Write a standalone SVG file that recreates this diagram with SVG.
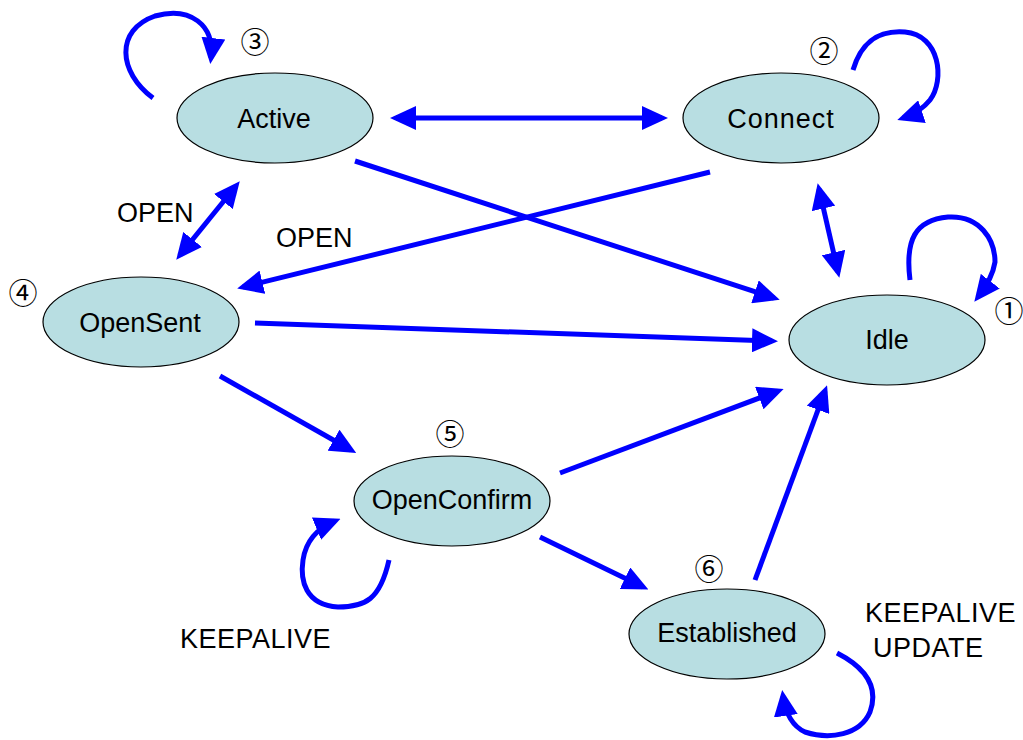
<svg xmlns="http://www.w3.org/2000/svg" width="1023" height="740" viewBox="0 0 1023 740">
<style>
.node ellipse{fill:#b8dee2;stroke:#000;stroke-width:1.2}
.lbl{font-family:"Liberation Sans",Arial,sans-serif;font-size:27px;fill:#000;text-anchor:middle}
.num{font-family:"Noto Sans CJK JP","DejaVu Sans",sans-serif;font-size:29px;fill:#000;text-anchor:middle}
.tx{font-family:"Liberation Sans",Arial,sans-serif;font-size:27px;fill:#000}
.c{fill:none;stroke:#0000ff;stroke-width:5;stroke-linecap:butt}
</style>
<defs>
<marker id="ah" viewBox="0 0 26 24" refX="20" refY="12" markerWidth="26" markerHeight="24" markerUnits="userSpaceOnUse" orient="auto-start-reverse">
<path d="M0,0 L26,12 L0,24 z" fill="#0000ff"/>
</marker>
</defs>
<rect width="1023" height="740" fill="#fff"/>
<g id="connectors">
<line class="c" x1="396" y1="118" x2="662" y2="118" marker-start="url(#ah)" marker-end="url(#ah)"/>
<line class="c" x1="355" y1="161" x2="774" y2="298" marker-end="url(#ah)"/>
<line class="c" x1="710" y1="172" x2="243" y2="287" marker-end="url(#ah)"/>
<line class="c" x1="236" y1="186" x2="180" y2="255" marker-start="url(#ah)" marker-end="url(#ah)"/>
<line class="c" x1="819" y1="189" x2="838" y2="272" marker-start="url(#ah)" marker-end="url(#ah)"/>
<line class="c" x1="255" y1="323" x2="772" y2="341" marker-end="url(#ah)"/>
<line class="c" x1="220" y1="376" x2="351" y2="450" marker-end="url(#ah)"/>
<line class="c" x1="560" y1="473" x2="778" y2="391" marker-end="url(#ah)"/>
<line class="c" x1="540" y1="537" x2="643" y2="587" marker-end="url(#ah)"/>
<line class="c" x1="755" y1="580" x2="825" y2="391" marker-end="url(#ah)"/>
<path class="c" d="M153,98 C118,72 115,30 155,16 C190,6 215,25 211,58" marker-end="url(#ah)"/>
<path class="c" d="M853,70 C862,40 880,30 905,32 C940,35 945,80 930,100 C922,110 912,115 903,118" marker-end="url(#ah)"/>
<path class="c" d="M910,280 C905,240 915,220 948,217 C980,215 995,240 995,262 C993,275 985,288 978,297" marker-end="url(#ah)"/>
<path class="c" d="M389,560 C380,600 365,607 338,607 C305,605 300,580 303,560 C306,540 318,528 335,521" marker-end="url(#ah)"/>
<path class="c" d="M837,653 C870,670 878,690 870,712 C860,735 830,740 805,732 C790,725 785,710 783,696" marker-end="url(#ah)"/>
</g>
<g id="node-active" class="node"><ellipse cx="275" cy="118" rx="98" ry="45"/><text class="lbl" x="274" y="128">Active</text><text class="num" x="255" y="53">③</text></g>
<g id="node-connect" class="node"><ellipse cx="781" cy="118" rx="98" ry="45"/><text class="lbl" x="781" y="128" letter-spacing="1">Connect</text><text class="num" x="824" y="62">②</text></g>
<g id="node-opensent" class="node"><ellipse cx="141" cy="322" rx="98" ry="45"/><text class="lbl" x="140" y="332">OpenSent</text><text class="num" x="23" y="304">④</text></g>
<g id="node-idle" class="node"><ellipse cx="887" cy="340" rx="98" ry="45"/><text class="lbl" x="887" y="349">Idle</text><text class="num" x="1009" y="322">①</text></g>
<g id="node-openconfirm" class="node"><ellipse cx="452" cy="501" rx="98" ry="45"/><text class="lbl" x="452" y="509">OpenConfirm</text><text class="num" x="450" y="445">⑤</text></g>
<g id="node-established" class="node"><ellipse cx="727" cy="634" rx="98" ry="45"/><text class="lbl" x="727" y="642">Established</text><text class="num" x="709" y="580">⑥</text></g>
<g id="labels">
<text class="tx" x="117" y="222">OPEN</text>
<text class="tx" x="276" y="247">OPEN</text>
<text class="tx" x="180" y="648" letter-spacing="0.5">KEEPALIVE</text>
<text class="tx" x="865" y="622" letter-spacing="0.5">KEEPALIVE</text>
<text class="tx" x="873" y="657" letter-spacing="0.5">UPDATE</text>
</g>
</svg>
